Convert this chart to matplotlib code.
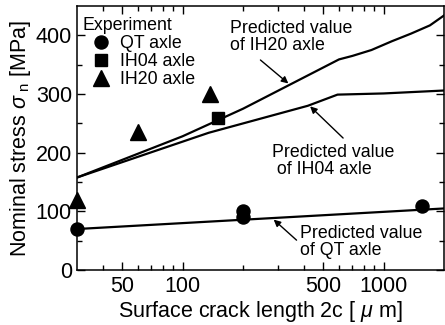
import matplotlib
matplotlib.use("Agg")
import matplotlib.pyplot as plt
from matplotlib.ticker import FixedLocator, NullFormatter

plt.rcParams['font.family'] = ['Liberation Sans', 'DejaVu Sans']
plt.rcParams['mathtext.fontset'] = 'custom'
plt.rcParams['mathtext.rm'] = 'Liberation Sans'
plt.rcParams['mathtext.it'] = 'Liberation Sans:italic'

# Experimental results (crack length 2c in um, nominal stress in MPa)
qt_x = [30, 200, 200, 1560]
qt_y = [70, 100, 90, 110]
ih04_exp_x = [150]
ih04_exp_y = [260]
ih20_exp_x = [30, 60, 137]
ih20_exp_y = [120, 235, 300]

# Predicted curves
qt_pred_x = [30, 2000]
qt_pred_y = [70, 105]
ih04_pred_x = [30, 135, 420, 590, 1000, 2000]
ih04_pred_y = [158, 234, 280, 299, 301, 306]
ih20_pred_x = [30, 100, 200, 600, 700, 870, 1100, 1370, 1700, 2000]
ih20_pred_y = [158, 228, 275, 359, 365, 375, 390, 403, 417, 434]

x_major = [50, 100, 500, 1000]
x_major_labels = ['50', '100', '500', '1000']
x_minor = [40, 60, 70, 80, 90, 200, 300, 400, 600, 700, 800, 900]
y_major = [0, 100, 200, 300, 400]
y_minor = [50, 150, 250, 350]

fig = plt.figure(figsize=(4.45, 3.25), dpi=100)
ax = fig.add_axes([0.174, 0.169, 0.824, 0.8125])

lw = 1.6
ax.plot(qt_pred_x, qt_pred_y, color='black', lw=lw)
ax.plot(ih04_pred_x, ih04_pred_y, color='black', lw=lw)
ax.plot(ih20_pred_x, ih20_pred_y, color='black', lw=lw)

ax.plot(qt_x, qt_y, 'o', color='black', ms=9.4, ls='none', label='QT axle', clip_on=False)
ax.plot(ih04_exp_x, ih04_exp_y, 's', color='black', ms=9.2, ls='none', label='IH04 axle', clip_on=False)
ax.plot(ih20_exp_x, ih20_exp_y, '^', color='black', ms=11, ls='none', label='IH20 axle', clip_on=False)

ax.set_xscale('log')
ax.set_xlim(30, 2000)
ax.set_ylim(0, 450)

ax.xaxis.set_major_locator(FixedLocator(x_major))
ax.set_xticklabels(x_major_labels)
ax.xaxis.set_minor_locator(FixedLocator(x_minor))
ax.xaxis.set_minor_formatter(NullFormatter())
ax.yaxis.set_major_locator(FixedLocator(y_major))
ax.yaxis.set_minor_locator(FixedLocator(y_minor))

ax.tick_params(which='both', direction='in', top=True, right=True,
               labelsize=15.5, width=1.0, pad=4)
ax.tick_params(which='major', length=6)
ax.tick_params(which='minor', length=3.5)
for s in ax.spines.values():
    s.set_linewidth(1.1)

ax.set_xlabel(r'Surface crack length 2c [ $\mu$ m]', fontsize=15.5, labelpad=2)
ax.set_ylabel(r'Nominal stress $\sigma_{\ \mathrm{n}}$ [MPa]', fontsize=15.5, labelpad=2)

leg = ax.legend(loc='upper left', bbox_to_anchor=(-0.011, 0.991), frameon=False,
                title='Experiment', fontsize=12.8, title_fontsize=12.8,
                handlelength=2.1, handletextpad=0.0, labelspacing=0.05,
                borderpad=0.3, borderaxespad=0.2)
leg._legend_box.align = 'left'

# Curve labels with arrows
tfs = 12.8
arrow = dict(arrowstyle='-|>', color='black', lw=1.0, mutation_scale=10,
             shrinkA=0, shrinkB=0)
ax.text(172, 397, 'Predicted value\nof IH20 axle', fontsize=tfs, ha='left', va='center', linespacing=1.05)
ax.annotate('', xy=(336, 318), xytext=(244, 358), arrowprops=arrow)

ax.text(277, 186, 'Predicted value\n of IH04 axle', fontsize=tfs, ha='left', va='center', linespacing=1.05)
ax.annotate('', xy=(431, 279), xytext=(629, 225), arrowprops=arrow)

ax.text(385, 48, 'Predicted value\nof QT axle', fontsize=tfs, ha='left', va='center', linespacing=1.05)
ax.annotate('', xy=(284, 86), xytext=(369, 51), arrowprops=arrow)

fig.savefig('out.png', dpi=100)
